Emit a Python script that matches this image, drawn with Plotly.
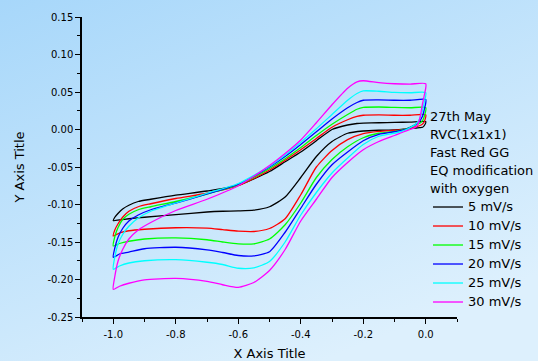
import base64
import plotly.graph_objects as go

# ---------------- data ----------------
E_up = [-1.0, -0.995, -0.985, -0.97, -0.95, -0.92, -0.88, -0.8, -0.7, -0.6, -0.5,
        -0.45, -0.4, -0.35, -0.3, -0.25, -0.22, -0.2, -0.15, -0.1, -0.05, 0.0]
E_down = [0.0, -0.005, -0.01, -0.02, -0.03, -0.05, -0.07, -0.1, -0.15, -0.2, -0.25,
          -0.3, -0.35, -0.4, -0.45, -0.5, -0.55, -0.6, -0.65, -0.7, -0.8, -0.9,
          -0.95, -0.98, -1.0]

black_up = [-0.1216, -0.117, -0.112, -0.106, -0.101, -0.096, -0.093, -0.0875, -0.082, -0.0745, -0.056,
            -0.043, -0.030, -0.015, 0.0, 0.006, 0.008, 0.0085, 0.009, 0.0095, 0.0098, 0.0105]
red_up = [-0.142, -0.134, -0.126, -0.117, -0.109, -0.103, -0.099, -0.092, -0.085, -0.075, -0.054,
          -0.041, -0.027, -0.012, 0.003, 0.013, 0.0175, 0.019, 0.0195, 0.019, 0.019, 0.0195]
green_up = [-0.1553, -0.143, -0.131, -0.120, -0.113, -0.107, -0.103, -0.096, -0.086, -0.074, -0.052,
            -0.039, -0.024, -0.008, 0.007, 0.020, 0.027, 0.0295, 0.030, 0.0295, 0.029, 0.029]
blue_up = [-0.1704, -0.158, -0.144, -0.132, -0.122, -0.114, -0.107, -0.098, -0.086, -0.073, -0.050,
           -0.036, -0.020, -0.003, 0.014, 0.029, 0.036, 0.039, 0.0395, 0.039, 0.039, 0.040]
cyan_up = [-0.1864, -0.170, -0.153, -0.140, -0.129, -0.118, -0.109, -0.098, -0.085, -0.072, -0.049,
           -0.034, -0.017, 0.001, 0.020, 0.039, 0.048, 0.0515, 0.051, 0.0495, 0.049, 0.049]
magenta_up = [-0.2131, -0.196, -0.176, -0.160, -0.146, -0.134, -0.124, -0.108, -0.093, -0.075, -0.048,
              -0.032, -0.014, 0.009, 0.033, 0.055, 0.0635, 0.065, 0.0625, 0.061, 0.0605, 0.061]

black_down = [0.0105, 0.005, 0.003, 0.0025, 0.002, 0.0015, 0.0005, -0.0005, -0.001, -0.002, -0.005,
              -0.016, -0.036, -0.064, -0.090, -0.103, -0.1075, -0.1085, -0.109, -0.110, -0.1135,
              -0.117, -0.119, -0.1205, -0.1216]
red_down = [0.0195, 0.010, 0.0075, 0.005, 0.004, 0.002, 0.0, -0.001, -0.0025, -0.0055, -0.0135,
            -0.028, -0.050, -0.087, -0.119, -0.132, -0.136, -0.1355, -0.1335, -0.1315, -0.131,
            -0.133, -0.135, -0.138, -0.142]
green_down = [0.029, 0.017, 0.012, 0.008, 0.0065, 0.003, 0.0, -0.0025, -0.005, -0.011, -0.023,
              -0.040, -0.064, -0.098, -0.127, -0.146, -0.1525, -0.1525, -0.150, -0.147, -0.1445,
              -0.146, -0.149, -0.152, -0.1553]
blue_down = [0.040, 0.026, 0.018, 0.011, 0.0075, 0.003, -0.0005, -0.003, -0.0065, -0.015, -0.030,
             -0.047, -0.073, -0.105, -0.137, -0.163, -0.1685, -0.168, -0.164, -0.1605, -0.157,
             -0.159, -0.1635, -0.166, -0.1704]
cyan_down = [0.049, 0.036, 0.026, 0.014, 0.008, 0.0025, -0.0015, -0.005, -0.009, -0.020, -0.038,
             -0.058, -0.084, -0.114, -0.150, -0.176, -0.1845, -0.185, -0.180, -0.177, -0.1735,
             -0.175, -0.178, -0.182, -0.1864]
magenta_down = [0.061, 0.045, 0.035, 0.013, 0.004, 0.0, -0.003, -0.008, -0.016, -0.027, -0.044,
                -0.064, -0.093, -0.122, -0.160, -0.188, -0.204, -0.2105, -0.207, -0.2025, -0.1985,
                -0.2005, -0.205, -0.209, -0.2131]

series_names = ["5 mV/s", "10 mV/s", "15 mV/s", "20 mV/s", "25 mV/s", "30 mV/s"]
series_up = [black_up, red_up, green_up, blue_up, cyan_up, magenta_up]
series_down = [black_down, red_down, green_down, blue_down, cyan_down, magenta_down]
series_colors = ["#000000", "#ff0000", "#00ff00", "#0000ff", "#00ffff", "#ff00ff"]

header_lines = ["27th May", "RVC(1x1x1)", "Fast Red GG", "EQ modification", "with oxygen"]

x_tickvals = [-1.0, -0.8, -0.6, -0.4, -0.2, 0.0]
x_ticktext = ["-1.0", "-0.8", "-0.6", "-0.4", "-0.2", "0.0"]
y_tickvals = [-0.25, -0.20, -0.15, -0.10, -0.05, 0.00, 0.05, 0.10, 0.15]
y_ticktext = ["-0.25", "-0.20", "-0.15", "-0.10", "-0.05", "0.00", "0.05", "0.10", "0.15"]

# ---------------- figure ----------------
FONT = "DejaVu Sans"
W, H = 538, 361
ML, MR, MT, MB = 82, 81, 17, 44
PW, PH = W - ML - MR, H - MT - MB

fig = go.Figure()
for name, up, down, col in zip(series_names, series_up, series_down, series_colors):
    fig.add_trace(go.Scatter(
        x=E_up + E_down[1:], y=up + down[1:],
        mode="lines", line=dict(color=col, width=1.3, shape="spline", smoothing=0.6),
        name='<span style="font-size:13px">' + name + '</span>',
    ))

svg = ('<svg xmlns="http://www.w3.org/2000/svg" width="538" height="361">'
       '<defs><linearGradient id="g" x1="0" y1="0" x2="0.6" y2="1">'
       '<stop offset="0" stop-color="#a7d7fa"/><stop offset="1" stop-color="#ddf0fd"/>'
       '</linearGradient></defs><rect width="538" height="361" fill="url(#g)"/></svg>')
src = "data:image/svg+xml;base64," + base64.b64encode(svg.encode()).decode()

title_text = "<br>".join('<span style="font-size:13px">' + t + '</span>' for t in header_lines)

fig.update_layout(
    width=W, height=H,
    margin=dict(l=ML, r=MR, t=MT, b=MB, pad=0, autoexpand=False),
    paper_bgcolor="#c6e6fc", plot_bgcolor="rgba(0,0,0,0)",
    font=dict(family=FONT, color="#000000"),
    images=[dict(source=src, xref="paper", yref="paper",
                 x=-ML / PW, y=1 + MT / PH, sizex=W / PW, sizey=H / PH,
                 xanchor="left", yanchor="top", sizing="stretch", layer="below")],
    showlegend=True,
    legend=dict(
        x=(428 - ML) / PW, y=1 - (103 - MT) / PH, xanchor="left", yanchor="top",
        bgcolor="rgba(0,0,0,0)", borderwidth=0,
        font=dict(family=FONT, size=11.46, color="#000000"),
        title=dict(text=title_text, font=dict(family=FONT, size=13.77, color="#000000")),
        itemwidth=30, tracegroupgap=0,
    ),
    xaxis=dict(
        range=[-1.1, 0.1], showgrid=False, zeroline=False,
        showline=True, linecolor="#000000", linewidth=1.5,
        tickmode="array", tickvals=x_tickvals, ticktext=x_ticktext,
        ticks="outside", ticklen=5, tickwidth=1.2, tickcolor="#000000",
        ticklabelstandoff=2,
        tickfont=dict(family=FONT, size=10, color="#000000"),
        minor=dict(tickmode="linear", tick0=-1.1, dtick=0.1, ticks="outside",
                   ticklen=3, tickwidth=1, tickcolor="#000000", showgrid=False),
        title=dict(text="X Axis Title", font=dict(family=FONT, size=13), standoff=10),
    ),
    yaxis=dict(
        range=[-0.25, 0.15], showgrid=False, zeroline=False,
        showline=True, linecolor="#000000", linewidth=1.5,
        tickmode="array", tickvals=y_tickvals, ticktext=y_ticktext,
        ticks="outside", ticklen=5, tickwidth=1.2, tickcolor="#000000",
        tickfont=dict(family=FONT, size=10, color="#000000"),
        minor=dict(tickmode="linear", tick0=-0.25, dtick=0.025, ticks="outside",
                   ticklen=3, tickwidth=1, tickcolor="#000000", showgrid=False),
        title=dict(text="Y Axis Title", font=dict(family=FONT, size=13), standoff=20),
    ),
)

fig.write_html("out.html")
